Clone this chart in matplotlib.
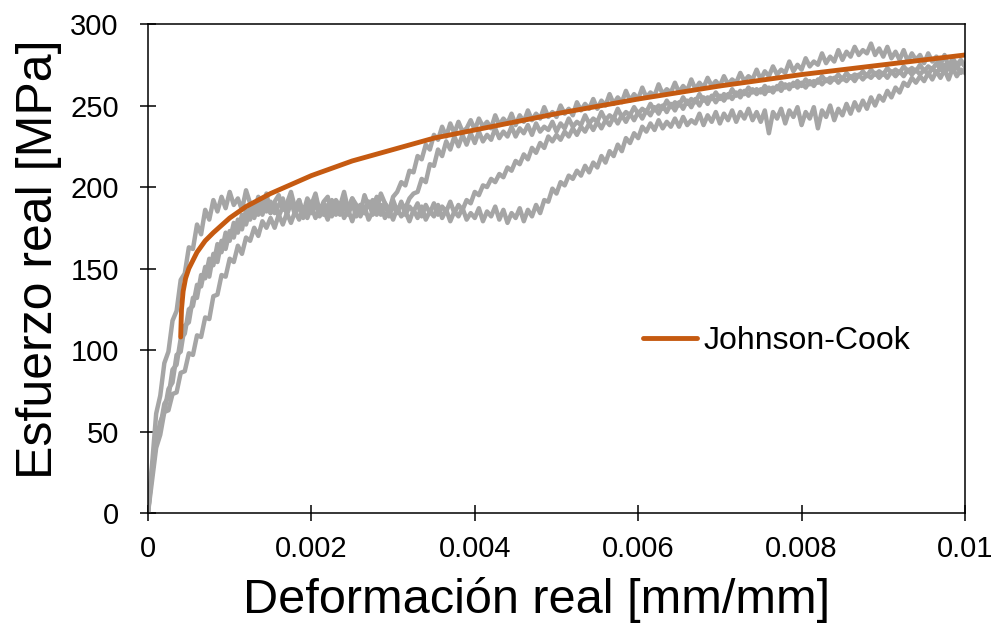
import matplotlib
matplotlib.use("Agg")
import matplotlib.pyplot as plt
import numpy as np

plt.rcParams['font.family'] = ['Liberation Sans', 'DejaVu Sans']

# strain sampling of the test curves (every 0.00005 mm/mm)
strain = np.round(np.arange(201) * 0.00005, 5)

test1 = [0, 30, 61, 72, 92, 99, 118, 124, 143, 147,
         163, 162, 177, 171, 186, 180, 192, 185, 194, 187,
         197, 189, 193, 186, 198, 190, 185, 194, 188, 196,
         184, 191, 195, 186, 190, 197, 187, 192, 184, 193,
         189, 196, 185, 191, 194, 183, 192, 188, 197, 186,
         193, 189, 184, 195, 188, 192, 186, 196, 190, 185,
         194, 197, 203, 201, 210, 209, 219, 217, 226, 223,
         232, 229, 237, 231, 239, 233, 240, 234, 236, 241,
         235, 242, 237, 240, 236, 244, 238, 242, 239, 245,
         238, 244, 240, 247, 241, 245, 242, 249, 243, 246,
         243, 250, 245, 248, 244, 252, 247, 251, 248, 254,
         248, 253, 250, 257, 251, 255, 252, 259, 253, 257,
         254, 261, 255, 258, 256, 263, 257, 260, 258, 264,
         258, 262, 259, 266, 260, 264, 261, 267, 262, 265,
         262, 268, 263, 266, 264, 270, 265, 268, 266, 272,
         266, 271, 268, 274, 269, 272, 270, 277, 271, 275,
         272, 279, 274, 277, 275, 282, 276, 280, 277, 284,
         278, 283, 280, 286, 281, 284, 282, 288, 281, 285,
         280, 286, 279, 283, 278, 284, 277, 282, 278, 281,
         276, 282, 277, 280, 275, 281, 274, 279, 275, 278,
         274]
test2 = [0, 27, 48, 53, 67, 71, 88, 91, 107, 110,
         125, 127, 140, 139, 151, 145, 159, 154, 167, 162,
         173, 169, 180, 174, 186, 180, 190, 183, 192, 185,
         191, 184, 189, 193, 183, 190, 186, 192, 182, 189,
         187, 194, 184, 190, 185, 192, 187, 183, 191, 186,
         193, 185, 189, 184, 191, 187, 194, 183, 190, 186,
         192, 185, 190, 187, 193, 196, 197, 205, 203, 214,
         213, 223, 219, 228, 223, 231, 225, 232, 226, 233,
         227, 234, 228, 232, 229, 236, 230, 234, 231, 237,
         231, 236, 233, 238, 232, 239, 234, 237, 235, 240,
         234, 239, 236, 242, 237, 240, 238, 244, 239, 242,
         240, 246, 241, 244, 242, 248, 243, 246, 244, 249,
         245, 248, 246, 251, 247, 250, 248, 253, 249, 252,
         250, 255, 251, 254, 252, 257, 253, 255, 254, 258,
         254, 257, 255, 260, 256, 259, 257, 261, 258, 260,
         258, 262, 259, 261, 260, 264, 261, 263, 262, 265,
         262, 266, 263, 265, 264, 268, 265, 267, 266, 269,
         266, 270, 267, 269, 268, 271, 268, 272, 269, 271,
         269, 273, 270, 272, 270, 274, 271, 273, 271, 275,
         271, 274, 272, 276, 272, 275, 273, 276, 273, 277,
         274]
test3 = [0, 20, 40, 48, 62, 63, 73, 74, 86, 87,
         98, 97, 109, 108, 120, 119, 133, 134, 146, 145,
         156, 154, 164, 159, 169, 167, 175, 170, 179, 175,
         181, 175, 183, 177, 184, 178, 185, 180, 187, 181,
         188, 181, 187, 183, 189, 182, 190, 184, 188, 183,
         190, 182, 189, 184, 191, 183, 188, 185, 190, 182,
         189, 184, 191, 183, 188, 185, 190, 182, 189, 184,
         190, 183, 188, 185, 191, 184, 189, 186, 192, 190,
         197, 195, 201, 200, 205, 203, 208, 206, 212, 210,
         216, 214, 220, 217, 224, 221, 227, 224, 231, 228,
         232, 229, 234, 231, 236, 232, 237, 234, 239, 235,
         240, 236, 241, 238, 243, 239, 244, 240, 245, 241,
         246, 242, 247, 244, 249, 245, 250, 246, 251, 247,
         252, 248, 253, 249, 254, 250, 255, 251, 256, 252,
         256, 253, 257, 254, 258, 255, 259, 256, 260, 257,
         260, 257, 261, 258, 262, 259, 263, 260, 264, 261,
         264, 261, 265, 262, 266, 263, 266, 264, 267, 264,
         267, 265, 268, 265, 269, 266, 269, 267, 270, 267,
         270, 267, 271, 268, 271, 268, 272, 269, 272, 269,
         272, 269, 273, 270, 273, 270, 273, 271, 274, 270,
         272]
test4 = [0, 25, 44, 56, 62, 76, 80, 97, 99, 115,
         117, 132, 132, 146, 144, 156, 152, 165, 160, 172,
         167, 178, 172, 183, 177, 187, 181, 189, 183, 191,
         184, 190, 182, 188, 185, 191, 183, 189, 181, 187,
         184, 190, 182, 186, 180, 188, 183, 189, 181, 186,
         179, 187, 182, 188, 180, 185, 183, 189, 181, 186,
         180, 187, 182, 185, 179, 186, 181, 188, 180, 185,
         182, 189, 181, 186, 179, 185, 182, 187, 180, 184,
         181, 187, 179, 185, 182, 188, 180, 186, 178, 184,
         181, 187, 179, 186, 182, 189, 184, 192, 191, 199,
         196, 203, 201, 207, 205, 210, 207, 213, 209, 215,
         212, 219, 215, 222, 219, 226, 222, 230, 227, 233,
         230, 237, 234, 239, 235, 241, 236, 240, 237, 242,
         237, 243, 238, 241, 239, 245, 238, 244, 240, 246,
         239, 245, 241, 247, 240, 246, 242, 248, 241, 246,
         240, 247, 233, 246, 242, 248, 239, 247, 243, 249,
         238, 246, 242, 249, 236, 247, 243, 250, 241, 248,
         244, 251, 245, 252, 247, 253, 248, 255, 250, 256,
         253, 259, 255, 261, 258, 264, 262, 267, 264, 268,
         265, 270, 266, 271, 267, 272, 266, 273, 268, 272,
         270]

# Johnson-Cook fit
jc_strain = [0.0004, 0.00041, 0.00043, 0.00046, 0.0005, 0.0006, 0.0007,
             0.0008, 0.001, 0.0012, 0.0015, 0.002, 0.0025, 0.003, 0.0035,
             0.004, 0.005, 0.006, 0.007, 0.008, 0.009, 0.01]
jc_stress = [108, 125, 136, 144, 150, 160, 167, 172, 181, 188, 196, 207,
             216, 223, 230, 235, 245, 254, 262, 269, 275, 281]

x_ticks = [0, 0.002, 0.004, 0.006, 0.008, 0.01]
x_labels = ["0", "0.002", "0.004", "0.006", "0.008", "0.01"]
y_ticks = [0, 50, 100, 150, 200, 250, 300]

fig = plt.figure(figsize=(9.98, 6.29), dpi=100)
ax = fig.add_axes([0.1483, 0.1844, 0.8186, 0.7774])

grey = "#a5a5a5"
for s in [test1, test2, test3, test4]:
    ax.plot(strain, s, color=grey, lw=3.2)
ax.plot(jc_strain, jc_stress, color="#c55a11", lw=3.5,
        solid_capstyle="round", label="Johnson-Cook")

ax.set_xlim(0, 0.01)
ax.set_ylim(0, 300)
ax.set_xticks(x_ticks, x_labels)
ax.set_yticks(y_ticks)
ax.tick_params(axis="both", direction="inout", length=12, width=1.1, color="black")
ax.tick_params(axis="y", labelsize=21, pad=15)
ax.tick_params(axis="x", labelsize=21, pad=10)
for sp in ax.spines.values():
    sp.set_color("black")
    sp.set_linewidth(1.1)

ax.set_xlabel("Deformación real [mm/mm]", fontsize=35, labelpad=10, x=0.476)
ax.set_ylabel("Esfuerzo real [MPa]", fontsize=36, labelpad=6, y=0.519)

ax.legend(loc="center left", bbox_to_anchor=(0.606, 0.352), frameon=False,
          fontsize=23, handlelength=1.7, handletextpad=0.2,
          borderpad=0, borderaxespad=0)

fig.savefig("out.png", dpi=100)
